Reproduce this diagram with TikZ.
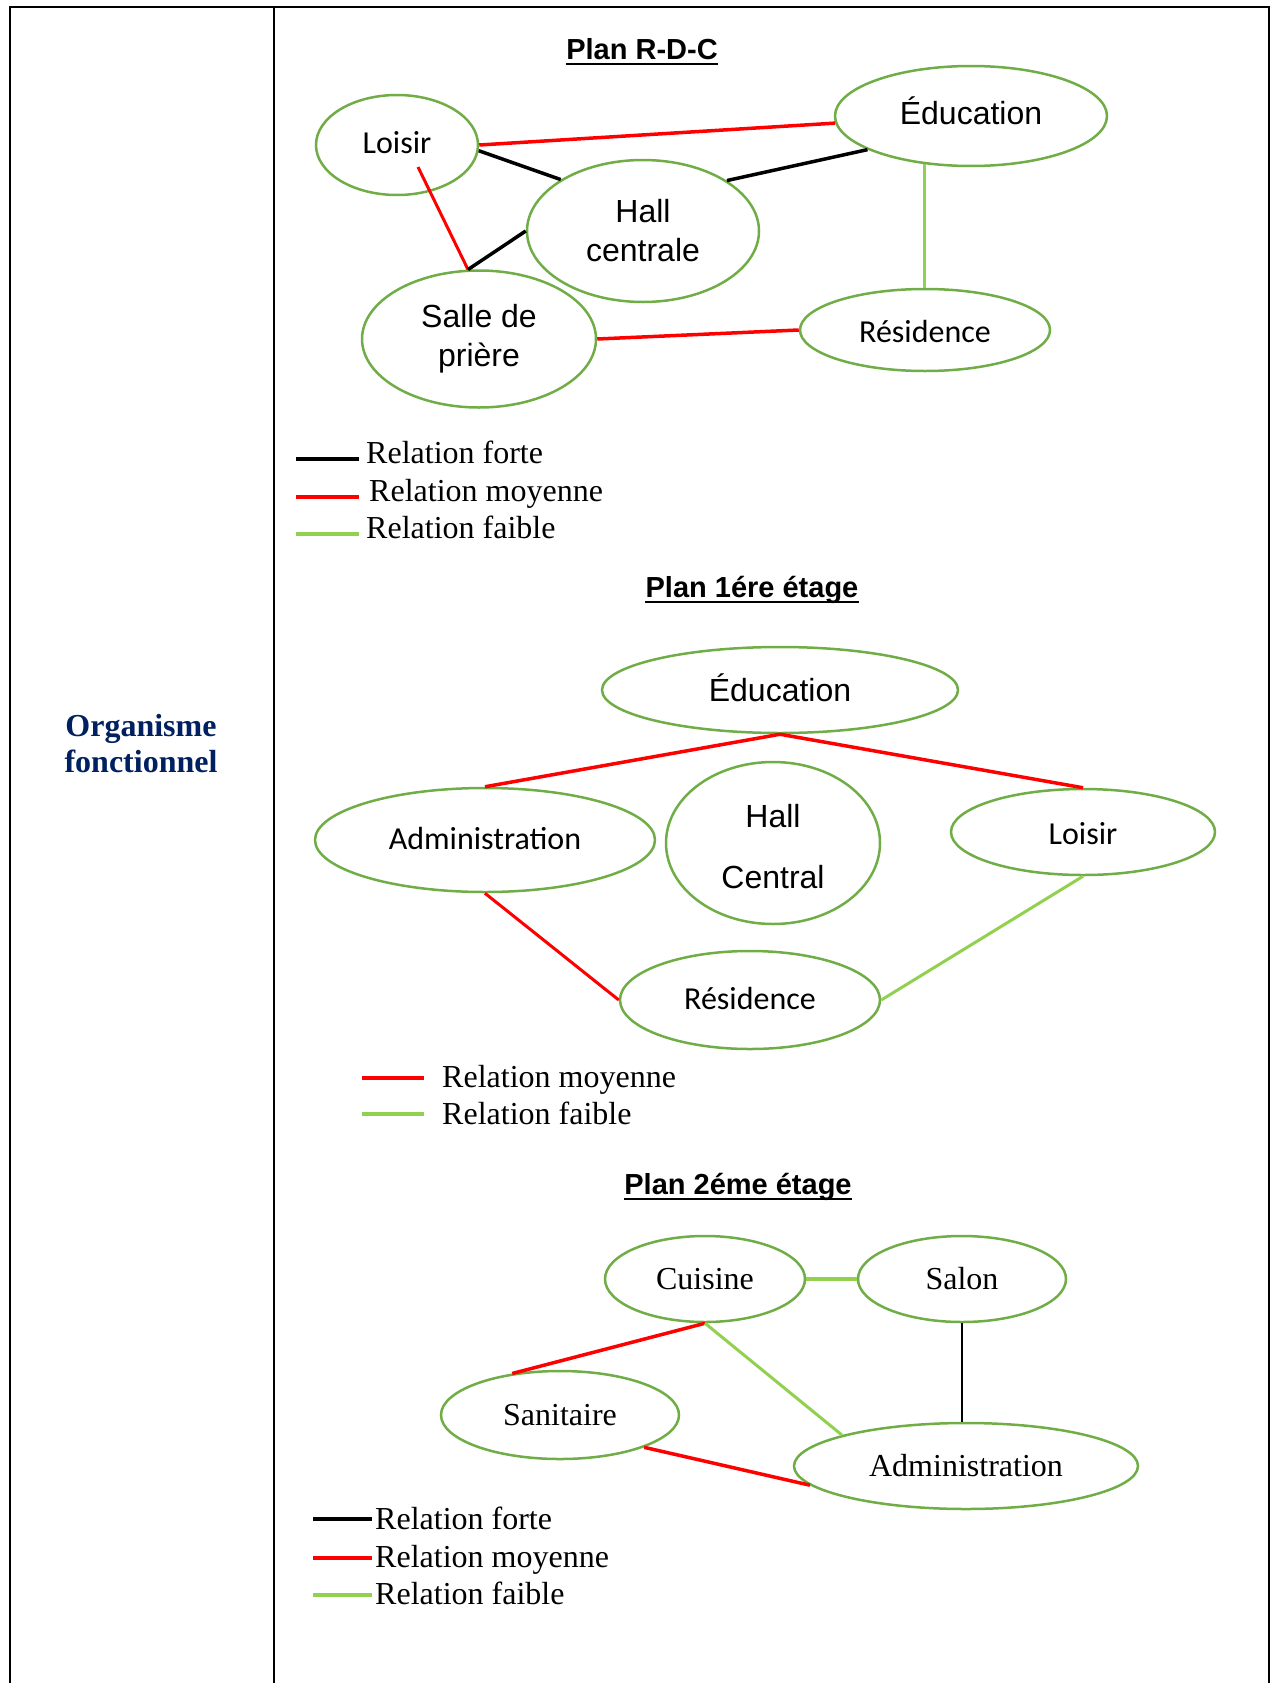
\documentclass[tikz,border=0pt]{standalone}
\usepackage{fontspec}
\setmainfont{Liberation Serif}
\newfontfamily\arialfont{Liberation Sans}
\newfontfamily\calfont{Carlito}
\usetikzlibrary{shapes.geometric}
\definecolor{roomgreen}{HTML}{70AD47}
\definecolor{weakgreen}{HTML}{92D050}
\definecolor{navyblue}{HTML}{002060}
% lift a single line of text without changing its box
\newcommand{\liftline}[2]{\raisebox{#1}[\height][\depth]{#2}}

\begin{document}
\begin{tikzpicture}[x=1pt,y=-1pt,
  room/.style 2 args={ellipse, draw=roomgreen, line width=2.5pt, inner sep=0pt,
    minimum width=#1, minimum height=#2, align=center},
  sans/.style={font=\arialfont\fontsize{32}{39}\selectfont},
  cal/.style={font=\calfont\fontsize{32}{39}\selectfont},
  rmtext/.style={font=\fontsize{32}{38}\selectfont},
  forte/.style={draw=black, line width=3.5pt},
  moyenne/.style={draw=red, line width=3.5pt},
  faible/.style={draw=weakgreen, line width=3pt},
  plantitle/.style={font=\arialfont\bfseries\fontsize{29}{34}\selectfont, inner sep=0pt, anchor=base},
  legtext/.style={font=\fontsize{32}{36}\selectfont, inner sep=0pt, anchor=base west},
  uline/.style={line width=2.5pt}
]
\useasboundingbox (0,0) rectangle (1279,1683);

% table frame
\draw[line width=2.5pt] (10,1683) -- (10,7) -- (1269,7) -- (1269,1683);
\draw[line width=2.5pt] (274,7) -- (274,1683);

% left column
\node[font=\bfseries\fontsize{32}{36}\selectfont, text=navyblue, align=center, inner sep=0pt]
  (org) at (141,744) {Organisme\\fonctionnel};

% ---------- Plan R-D-C ----------
\node[plantitle] (t1) at (642,60) {Plan R-D-C};
\draw[uline] ([yshift=-4pt]t1.base west) -- ([yshift=-4pt]t1.base east);

\node[room={162}{100}, cal]  (loisir0) at (397,145) {\liftline{2pt}{Loisir}};
\node[room={272}{100}, sans] (edu0)    at (971,116) {\liftline{5pt}{Éducation}};
\node[room={232}{142}, sans] (hall0)   at (643,231) {Hall\\centrale};
\node[room={234}{137}, sans] (salle0)  at (479,339) {Salle de\\prière};
\node[room={250}{82}, cal]   (res0)    at (925,330) {\liftline{-2pt}{Résidence}};

\coordinate (loisirin) at ([shift={(21,22)}]loisir0.center);
\draw[moyenne] (loisir0.east) -- (edu0.183);
\draw[forte] (loisir0.-4) -- (hall0.148);
\draw[forte] (hall0.31) -- (edu0.198);
\draw[moyenne, line width=3pt] (loisirin) -- (salle0.99);
\draw[forte] (hall0.west) -- (salle0.99);
\draw[faible] (edu0.226) -- (edu0.226 |- res0.north);
\draw[moyenne] (salle0.east) -- (res0.west);

\node[legtext] (lf0) at (366,463) {Relation forte};
\node[legtext] (lm0) at (369,501) {Relation moyenne};
\node[legtext] (lw0) at (366,538) {Relation faible};
\draw[forte] ([xshift=-70pt,yshift=4pt]lf0.base west) -- ([xshift=-7pt,yshift=4pt]lf0.base west);
\draw[moyenne] ([xshift=-73pt,yshift=4pt]lm0.base west) -- ([xshift=-10pt,yshift=4pt]lm0.base west);
\draw[faible, line width=3.5pt] ([xshift=-70pt,yshift=4pt]lw0.base west) -- ([xshift=-7pt,yshift=4pt]lw0.base west);

% ---------- Plan 1ere etage ----------
\node[plantitle] (t2) at (752,597) {Plan 1ére étage\ };
\draw[uline] ([yshift=-5pt]t2.base west) -- ([yshift=-5pt]t2.base east);

\node[room={356}{86}, sans]  (edu1) at (780,690)  {\liftline{2pt}{Éducation}};
\node[room={340}{104}, cal]  (adm1) at (485,840)  {\liftline{2pt}{Administration}};
\node[room={214}{162}, font=\arialfont\fontsize{32}{61}\selectfont] (hall1) at (773,843)
  {\liftline{-4pt}{Hall}\\\liftline{-4pt}{Central}};
\node[room={264}{86}, cal]   (loi1) at (1083,832) {\liftline{-2pt}{Loisir}};
\node[room={260}{98}, cal]   (res1) at (750,1000) {\liftline{2pt}{Résidence}};

\draw[moyenne] (edu1.south) -- (adm1.north);
\draw[moyenne] (edu1.south) -- (loi1.north);
\draw[moyenne, line width=3pt] (adm1.south) -- (res1.west);
\draw[faible] (loi1.south) -- (res1.east);

\node[legtext] (lm1) at (442,1087) {Relation moyenne};
\node[legtext] (lw1) at (442,1124) {Relation faible};
\draw[moyenne] ([xshift=-80pt,yshift=9pt]lm1.base west) -- ([xshift=-18pt,yshift=9pt]lm1.base west);
\draw[faible, line width=3.5pt] ([xshift=-80pt,yshift=10pt]lw1.base west) -- ([xshift=-18pt,yshift=10pt]lw1.base west);

% ---------- Plan 2eme etage ----------
\node[plantitle] (t3) at (738,1194) {Plan 2éme étage\ };
\draw[uline] ([yshift=-5pt]t3.base west) -- ([yshift=-5pt]t3.base east);

\node[room={200}{86}, rmtext] (cui2) at (705,1279) {Cuisine};
\node[room={208}{86}, rmtext] (sal2) at (962,1279) {Salon};
\node[room={238}{88}, rmtext] (san2) at (560,1415) {Sanitaire};
\node[room={344}{86}, rmtext] (adm2) at (966,1466) {Administration};

\draw[faible, line width=4pt] (cui2.east) -- (sal2.west);
\draw[moyenne] (cui2.south) -- (san2.139);
\draw[faible] (cui2.south) -- (adm2.166);
\draw[forte, line width=2.5pt] (sal2.south) -- (sal2.south |- adm2.north);
\draw[moyenne] (san2.-21) -- (adm2.187);

\node[legtext] (lf2) at (375,1529) {Relation forte};
\node[legtext] (lm2) at (375,1567) {Relation moyenne};
\node[legtext] (lw2) at (375,1604) {Relation faible};
\draw[forte] ([xshift=-62pt,yshift=10pt]lf2.base west) -- ([xshift=-3pt,yshift=10pt]lf2.base west);
\draw[moyenne] ([xshift=-62pt,yshift=9pt]lm2.base west) -- ([xshift=-3pt,yshift=9pt]lm2.base west);
\draw[faible, line width=3.5pt] ([xshift=-62pt,yshift=9pt]lw2.base west) -- ([xshift=-3pt,yshift=9pt]lw2.base west);
\end{tikzpicture}
\end{document}
